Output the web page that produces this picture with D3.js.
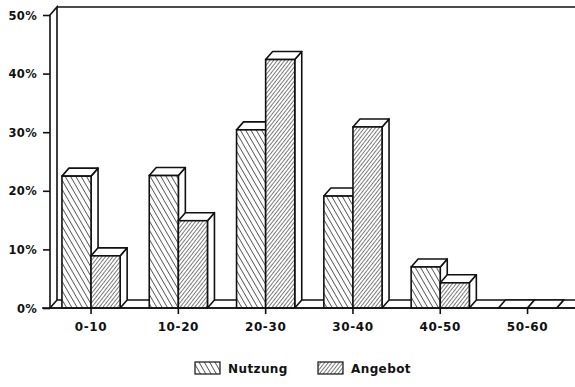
<!DOCTYPE html>
<html>
<head>
<meta charset="utf-8">
<script src="https://cdn.jsdelivr.net/npm/d3@7"></script>
<style>
  html, body { margin: 0; padding: 0; background: #fff; }
  svg { display: block; }
  text { font-family: "DejaVu Sans", "Liberation Sans", Arial, sans-serif; font-weight: bold; fill: #111; }
</style>
</head>
<body>
<svg id="chart" width="575" height="387"></svg>
<script>
// ---- data ----
const categories = ["0-10", "10-20", "20-30", "30-40", "40-50", "50-60"];
const seriesNames = ["Nutzung", "Angebot"];
const nutzung = [22.5, 22.6, 30.4, 19.1, 7.0, 0];
const angebot = [8.9, 14.9, 42.4, 30.9, 4.3, 0];
const yTicks = [0, 10, 20, 30, 40, 50];
const yTickLabels = ["0%", "10%", "20%", "30%", "40%", "50%"];

const W = 575, H = 387;
const DX = 7, DY = -8;   // 3D depth offset
const svg = d3.select("#chart");
const FONT = "'DejaVu Sans', 'Liberation Sans', Arial, sans-serif";

// patterns
const defs = svg.append("defs");
function hatch(id, dir, spacing, sw) {
  const p = defs.append("pattern")
    .attr("id", id).attr("patternUnits", "userSpaceOnUse")
    .attr("width", spacing).attr("height", spacing)
    .attr("patternTransform", `rotate(${dir})`);
  p.append("rect").attr("width", spacing).attr("height", spacing).attr("fill", "#fff");
  p.append("line").attr("x1", 0).attr("y1", 0).attr("x2", 0).attr("y2", spacing)
    .attr("stroke", "#111").attr("stroke-width", sw);
}
hatch("pat-Nutzung", -30, 4.6, 1.3);
hatch("pat-Angebot", 38, 2.9, 1.1);

const x0 = d3.scaleBand().domain(categories).range([47.4, 571.2]).paddingInner(0).paddingOuter(0);
const x1 = d3.scaleBand().domain(seriesNames).range([0, x0.bandwidth()]).paddingInner(0).paddingOuter(0.5);
const y = d3.scaleLinear().domain([0, 50]).range([308, 15]);

const xLeft = 50, yBase = y(0), yTop = y(50);
const stroke = "#111", sw = 1.6;

// back wall & left side wall
svg.append("line").attr("x1", xLeft + DX).attr("y1", yTop + DY).attr("x2", W + 5).attr("y2", yTop + DY)
  .attr("stroke", stroke).attr("stroke-width", sw);
svg.append("path")
  .attr("d", `M${xLeft},${yBase} L${xLeft},${yTop} L${xLeft + DX},${yTop + DY} L${xLeft + DX},${yBase + DY}`)
  .attr("fill", "none").attr("stroke", stroke).attr("stroke-width", sw);
// floor
svg.append("path")
  .attr("d", `M${xLeft},${yBase} L${xLeft + DX},${yBase + DY} L${W + 5},${yBase + DY} L${W + 5},${yBase} Z`)
  .attr("fill", "#fff").attr("stroke", stroke).attr("stroke-width", sw);

// y axis ticks + labels
const yAxis = d3.axisLeft(y).tickValues(yTicks).tickSize(7)
  .tickFormat((d, i) => yTickLabels[i]);
const gy = svg.append("g").attr("transform", `translate(${xLeft},0)`).call(yAxis);
gy.select(".domain").remove();
gy.selectAll(".tick line").attr("stroke", stroke).attr("stroke-width", sw);
gy.selectAll(".tick text").attr("x", -13).attr("dy", "0.36em")
  .style("font-size", "11.5px").style("letter-spacing", "0.3px")
  .style("font-family", FONT).style("font-weight", "bold")
  .attr("fill", "#111");

// bars
const data = categories.map((c, i) => ({ cat: c, vals: [
  { s: "Nutzung", v: nutzung[i] }, { s: "Angebot", v: angebot[i] }] }));

data.forEach(g => {
  g.vals.forEach(b => {
    const bx = x0(g.cat) + x1(b.s), bw = x1.bandwidth();
    const by = y(b.v);
    const grp = svg.append("g");
    grp.append("path")
      .attr("d", `M${bx + bw},${yBase} L${bx + bw},${by} L${bx + bw + DX},${by + DY} L${bx + bw + DX},${yBase + DY} Z`)
      .attr("fill", "#fff").attr("stroke", stroke).attr("stroke-width", sw).attr("stroke-linejoin", "round");
    grp.append("path")
      .attr("d", `M${bx},${by} L${bx + DX},${by + DY} L${bx + bw + DX},${by + DY} L${bx + bw},${by} Z`)
      .attr("fill", "#fff").attr("stroke", stroke).attr("stroke-width", sw).attr("stroke-linejoin", "round");
    grp.append("rect")
      .attr("x", bx).attr("y", by).attr("width", bw).attr("height", yBase - by)
      .attr("fill", `url(#pat-${b.s})`).attr("stroke", stroke).attr("stroke-width", sw);
  });
});

// x axis
const xAxis = d3.axisBottom(x0).tickSize(6).tickSizeOuter(0);
const gx = svg.append("g").attr("transform", `translate(0,${yBase})`).call(xAxis);
gx.select(".domain").remove();
svg.append("line").attr("x1", 42).attr("x2", W + 5).attr("y1", yBase).attr("y2", yBase)
  .attr("stroke", stroke).attr("stroke-width", sw);
gx.selectAll(".tick line").attr("stroke", stroke).attr("stroke-width", sw);
gx.selectAll(".tick text").attr("y", 14).attr("dy", "0.71em")
  .style("font-size", "12px").style("letter-spacing", "0.6px")
  .style("font-family", FONT).style("font-weight", "bold")
  .attr("fill", "#111");

// legend
const legendItems = [{ s: "Nutzung", x: 195 }, { s: "Angebot", x: 318 }];
const lg = svg.append("g");
legendItems.forEach(it => {
  lg.append("rect").attr("x", it.x).attr("y", 362).attr("width", 25).attr("height", 12)
    .attr("fill", `url(#pat-${it.s})`).attr("stroke", stroke).attr("stroke-width", 1.2);
  lg.append("text").attr("x", it.x + 33).attr("y", 373).text(it.s)
    .style("font-size", "12px").style("letter-spacing", "0.4px");
});
</script>
</body>
</html>
